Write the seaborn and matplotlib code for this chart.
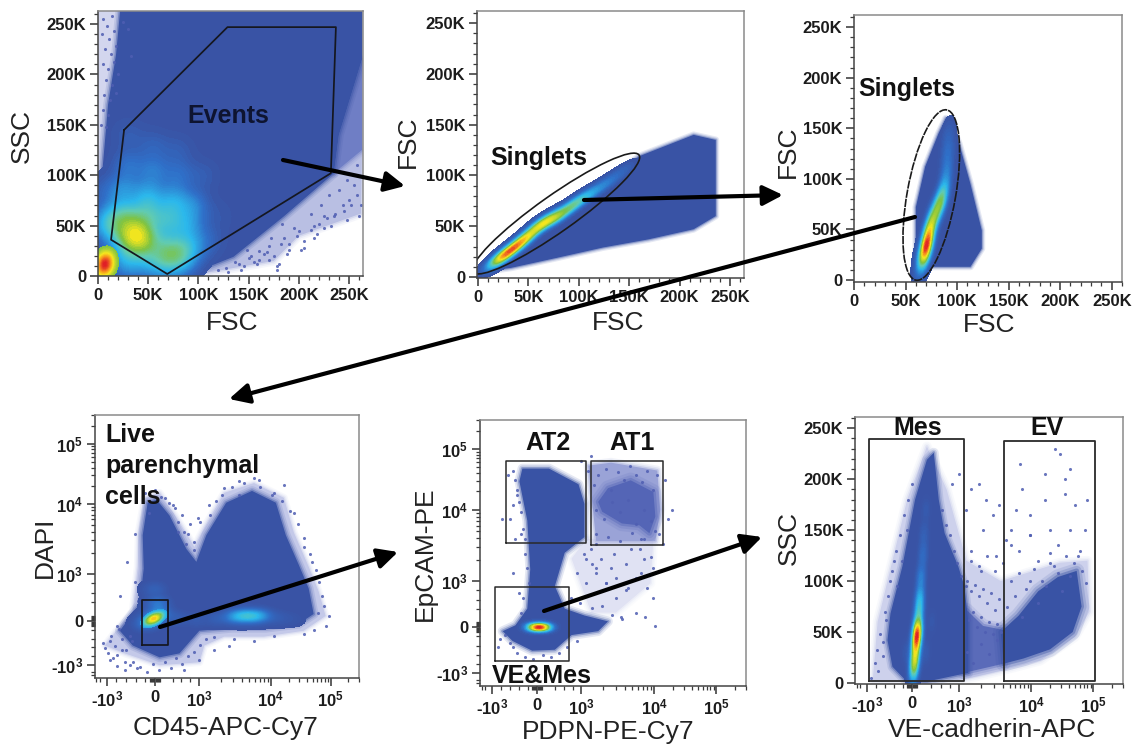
import numpy as np
import matplotlib
matplotlib.use("Agg")
import matplotlib.pyplot as plt
from matplotlib.colors import LinearSegmentedColormap
from matplotlib.patches import Ellipse, FancyArrowPatch
import seaborn as sns

# ---------- values ----------
K_TICKS = [0, 50, 100, 150, 200, 250]
K_LABELS = ["0", "50K", "100K", "150K", "200K", "250K"]
BIEX_LABELS = [r"-$\mathbf{\mathsf{10^{3}}}$", "0", r"$\mathbf{\mathsf{10^{3}}}$", r"$\mathbf{\mathsf{10^{4}}}$", r"$\mathbf{\mathsf{10^{5}}}$"]

# Panel 1, FSC / SSC (K)
p1_body_x = [0, 4, 10, 18, 22, 263, 263, 240, 235, 185, 135, 102, 70, 0]
p1_body_y = [40, 100, 170, 220, 263, 263, 215, 140, 102, 59, 19, 6, 0, 0]
p1_pale_x = [0, 0, 40, 25, 12]
p1_pale_y = [100, 263, 263, 200, 120]
p1_fringe_x = [90, 175, 200, 262, 263, 235, 185, 135, 102]
p1_fringe_y = [0, 15, 40, 62, 125, 102, 59, 19, 6]
p1_strip_x = [235, 263, 263, 240]
p1_strip_y = [102, 125, 215, 140]
p1_dots_x = [5, 9, 14, 4, 11, 16, 7, 13, 18, 5, 10, 16, 8, 14, 20, 6, 12, 18, 5, 10, 3, 8, 25, 30, 33, 140, 150, 160, 170, 178, 178, 180, 190, 200, 205, 215, 225, 222, 235, 245, 250, 240, 255, 260, 258, 248, 230, 212, 195, 185, 165, 155, 148, 172, 183, 215, 225,
             120, 128, 136, 145, 152, 160, 168, 175, 182, 190, 198, 205, 212, 220, 228, 236, 244, 252, 258, 130, 142, 158, 170, 188, 202, 218, 232, 248, 262]
p1_dots_y = [255, 248, 258, 240, 235, 243, 225, 220, 228, 210, 205, 212, 195, 190, 200, 180, 175, 182, 165, 160, 150, 148, 252, 245, 218, 12, 18, 25, 30, 10, 6, 12, 32, 45, 35, 50, 60, 70, 60, 65, 75, 85, 90, 60, 110, 95, 80, 62, 48, 38, 22, 14, 26, 38, 52, 38, 48,
             6, 8, 14, 10, 20, 16, 24, 20, 32, 26, 40, 28, 46, 52, 58, 62, 70, 70, 80, 4, 6, 12, 16, 22, 26, 42, 50, 56, 70]
p1_core_x = [30, 55, 80, 30, 55, 80, 105, 25, 50, 75, 95, 120, 5, 15, 30, 50, 70, 90, 110, 5, 20, 38, 55, 75, 92, 25, 45, 68, 85, 30, 55, 75]
p1_core_y = [140, 130, 125, 110, 105, 100, 100, 85, 80, 75, 70, 60, 85, 60, 60, 60, 55, 50, 35, 50, 42, 40, 35, 30, 28, 22, 22, 18, 15, 8, 8, 6]
p1_core_w = [.10, .12, .10, .20, .22, .18, .10, .28, .34, .32, .24, .06, .10, .28, .38, .38, .36, .28, .12, .25, .30, .85, .30, .30, .28, .26, .26, .36, .26, .20, .20, .12]
p1_hot_x = [5, 8, 8, 3, 12]
p1_hot_y = [12, 8, 18, 5, 14]
p1_hot_w = [1, .9, .9, .5, .4]
p1_gate_x = [26, 129, 237, 232, 69, 13, 26]
p1_gate_y = [145, 247, 247, 102, 2, 36, 145]

# Panel 2, FSC / FSC (K)
p2_body_x = [11, 15, 56, 101, 137, 160, 214, 236, 236, 214, 169, 124, 79, 33]
p2_body_y = [6, 14, 50, 79, 102, 119, 140, 135, 60, 47, 37, 29, 19, 9]
p2_core_x = [18, 24, 35, 47, 60, 70, 80, 92, 102, 115, 130, 145]
p2_core_y = [15, 20, 28, 38, 50, 56, 60, 69, 76, 84, 94, 105]
p2_core_w = [.28, .55, .72, .66, .52, .44, .42, .32, .28, .2, .15, .08]

# Panel 3, FSC / FSC (K)
p3_body_x = [63, 113, 124, 124, 113, 102, 93, 89, 82, 69, 60, 60]
p3_body_y = [13, 13, 31, 49, 95, 135, 158, 160, 145, 112, 72, 13]
p3_core_x = [66, 69, 71, 73, 77, 82, 85, 88, 90, 91, 91]
p3_core_y = [18, 28, 36, 49, 62, 72, 80, 92, 110, 128, 145]
p3_core_w = [.5, .85, 1, .85, .65, .55, .5, .35, .25, .2, .12]

# Panel 4, CD45 / DAPI (channel units, 0 at the zero tick)
p4_x_ticks = [-48, 0, 45, 117, 177]
p4_y_ticks = [-45, 0, 48, 119, 180]
p4_body_x = [-35, -15, -11, -12, -7, 2, 15, 32, 42, 52, 72, 98, 122, 132, 145, 155, 160, 145, 112, 78, 45, 25, 5, -22]
p4_body_y = [-10, 17, 53, 87, 120, 123, 107, 73, 60, 87, 120, 132, 120, 87, 57, 33, 7, -3, -7, -7, -10, -33, -37, -25]
p4_pale_x = [-50, -40, -22, -17, -16, -10, 5, 22, 40, 50, 70, 100, 130, 140, 155, 165, 172, 150, 110, 70, 50, 45, 5, -30]
p4_pale_y = [-25, -12, 10, 55, 90, 125, 130, 105, 75, 95, 130, 140, 125, 90, 55, 30, 5, -10, -16, -16, -25, -42, -45, -33]
p4_dots_x = [-50, -45, -38, -30, -25, -20, -42, -33, -25, -18, -35, -28, -20, -10, 0, 10, 20, 30, 40, 55, 70, 85, 100, 130, 150, 165, 170, 175, 158, 140, 120, 105, 85, -25, -38, -20, 30, 45, 60, 75,
             -52, -47, -44, -40, -36, -33, -29, -26, -23, -20, -17, -45, -38, -30, -22, -15, -8, -2, 4, 10, 16, 22, 28, 34, 40, 46, 52, -6, 6, 14, 24, 34, 18, 28, 36, 44, 24, 32, 40, 46, 56, 62, 68, 78, 90, 106, 118, 128, 136, 144, 150, 156, 162, 168, 164, 172, 160, 150, 60, 80, 100, 120]
p4_dots_y = [-28, -20, -35, -42, -15, -5, -38, -30, -45, -48, 25, 60, 88, 130, 133, 125, 115, 90, 80, 118, 135, 142, 145, 138, 75, 40, 15, 5, 60, 110, 130, 143, 128, 5, -5, 40, -50, -40, -30, -25,
             -22, -33, -15, -25, -8, -18, -30, -3, -20, 8, 20, -40, -46, -50, -42, -47, -52, -44, -50, -42, -48, -38, -44, -36, -32, -24, -18, 110, 126, 120, 100, 88, 118, 108, 98, 105, 90, 78, 72, 100, 108, 122, 128, 136, 140, 136, 128, 122, 112, 98, 84, 68, 52, 25, 8, -5, -9, -13, -16, -18, -20, -15]
p4_glow_x = [-2, 5, 3, 0, -10, 22, 42, 62, 78, 86, 94, 102, 110, 125, 140]
p4_glow_y = [2, 8, 18, 32, -3, 3, 1, 2, 4, 5, 5, 5, 5, 3, 2]
p4_glow_w = [.8, .6, .5, .25, .4, .2, .15, .2, .45, .6, .7, .6, .4, .15, .06]
p4_hot_x = [-3, 2]
p4_hot_y = [1, 4]
p4_hot_w = [1, .8]
p4_gate_x = [-13, 13, 13, -13, -13]
p4_gate_y = [-24, -24, 21, 21, -24]

# Panel 5, PDPN / EpCAM (channel units)
p5_x_ticks = [-46, 0, 45, 119, 182]
p5_y_ticks = [-47, 0, 47, 120, 182]
p5_body_x = [-35, -22, -10, -7, -10, -18, -15, 12, 42, 48, 48, 28, 18, 28, 48, 72, 62, 35, 18, -5, -25]
p5_body_y = [-4, 2, 19, 59, 109, 149, 162, 162, 146, 126, 92, 76, 42, 19, 12, 6, -4, -8, -23, -24, -14]
p5_at1_x = [62, 72, 95, 118, 120, 114, 104, 86, 66]
p5_at1_y = [128, 142, 150, 138, 113, 96, 104, 106, 118]
p5_mid_x = [52, 75, 122, 125, 120, 60]
p5_mid_y = [165, 168, 160, 120, 88, 88]
p5_pale_x = [50, 118, 115, 80, 55, 35]
p5_pale_y = [90, 90, 45, 15, 15, 70]
p5_dots_x = [-30, -36, -40, -25, -18, -22, 50, 60, 70, 80, 90, 100, 108, 118, 128, 133, 130, 137, 118, 100, 110, 85, 75, 60, 45, 55, 95, 105, 112, 120,
             -25, -22, -20, -18, -16, -14, -12, -28, -24, -20, -16, -12, -10, -8, -38, -33, -28, -24, -20, -12, -4, 6, 14, 22, 30, 40, -14, -16, 52, 58, 62, 70, 75, 82, 88, 94, 100, 106, 112, 118, 122, 60, 68, 76, 84, 92, 100, 108, 116, 124, 60, 72, 84, 96, 108, 120, 55, 65, 78, 90, 104, 116, 60, 70, 80, 92, 105, 48, 56, 40, 50, 34, 44, 56, 66, 76, 86]
p5_dots_y = [155, 110, -20, 55, 35, 90, 70, 60, 45, 30, 38, 50, 70, 60, 85, 110, 150, 120, 30, 15, 10, 10, 60, 85, 170, 175, 80, 90, 40, 1,
             160, 150, 140, 128, 118, 100, 90, 110, 125, 135, 95, 75, 60, 45, -12, -8, -16, -20, -26, -30, -32, -28, -30, -26, -20, -14, 30, 15, 160, 145, 155, 162, 140, 158, 150, 165, 155, 148, 160, 140, 155, 120, 110, 128, 118, 130, 105, 120, 108, 95, 95, 92, 88, 96, 90, 98, 80, 70, 75, 65, 80, 72, 55, 45, 50, 40, 55, 75, 65, 55, 45, 30, 25, 20, 22, 12, 8]
p5_core_x = [-8, -3, 2, 7, 12]
p5_core_y = [0, 0, 0, 0, 0]
p5_core_w = [.35, .8, 1, .8, .35]
p5_at2_gate_x = [-32, 50, 50, -32, -32]
p5_at2_gate_y = [86, 86, 170, 170, 86]
p5_at1_gate_x = [55, 128, 128, 55, 55]
p5_at1_gate_y = [84, 84, 170, 170, 84]
p5_ve_gate_x = [-43, 32, 32, -43, -43]
p5_ve_gate_y = [-34, -34, 41, 41, -34]

# Panel 6, VE-cadherin (channel units) / SSC (K)
p6_x_ticks = [-46, 0, 48, 121, 184]
p6_wedge_x = [-7, -20, -25, -22, -10, 3, 15, 22, 27, 33, 47, 53, 57, 57, 13]
p6_wedge_y = [3, 16, 42, 68, 114, 180, 219, 226, 180, 147, 114, 95, 60, 10, 1]
p6_ev_x = [90, 108, 128, 148, 167, 172, 163, 140, 113, 93]
p6_ev_y = [50, 66, 90, 104, 110, 75, 50, 33, 24, 19]
p6_bridge_x = [53, 93, 93, 72, 55]
p6_bridge_y = [10, 19, 52, 56, 72]
p6_pale_x = [-40, -35, -25, -5, 15, 35, 55, 90, 150, 178, 180, 165, 130, 90, 50]
p6_pale_y = [2, 60, 100, 180, 232, 190, 120, 100, 118, 120, 70, 45, 22, 12, 3]
p6_dots_x = [-35, -30, -28, -22, -18, 40, 48, 55, 60, 68, 72, 75, 82, 88, 95, 100, 108, 112, 120, 128, 135, 140, 148, 155, 160, 165, 170, 175, 150, 145, 135, 120, 105, 85, 70, 60, 55, 110, 155, 178,
             -42, -38, -36, -33, -30, -27, -25, -20, -16, -12, -8, -4, 0, -15, -10, -5, 30, 34, 38, 42, 46, 50, 56, 60, 64, 68, 72, 76, 80, 84, 88, 58, 62, 66, 70, 74, 78, 82, 86, 90, 60, 68, 76, 84, 92, 100, 108, 116, 124, 132, 140, 148, 156, 164, 172, 96, 104, 112, 120, 128, 136, 144, 152, 160, 168, 176, 100, 120, 140, 160, 56, 62, 70, 78, 86, 92]
p6_dots_y = [12, 40, 70, 100, 120, 195, 205, 170, 190, 195, 150, 180, 165, 175, 140, 150, 130, 190, 165, 120, 205, 150, 135, 200, 210, 175, 130, 150, 225, 230, 180, 145, 170, 125, 110, 130, 95, 215, 185, 180,
             5, 20, 32, 48, 26, 62, 85, 110, 130, 145, 165, 180, 195, 95, 120, 150, 170, 155, 145, 130, 118, 105, 100, 90, 96, 85, 92, 78, 88, 72, 82, 62, 70, 55, 65, 50, 60, 48, 58, 50, 120, 115, 125, 110, 118, 100, 108, 92, 112, 100, 118, 108, 125, 118, 110, 75, 85, 65, 100, 78, 95, 115, 90, 105, 125, 98, 135, 145, 128, 150, 30, 20, 38, 28, 42, 22]
p6_core_x = [1, 2, 3, 4, 5, 6, 7, 8, 9, 11, 12, 14, -6, 14, 20]
p6_core_y = [8, 16, 26, 39, 48, 55, 71, 85, 104, 125, 145, 170, 30, 30, 60]
p6_core_w = [.35, .6, .8, 1, .9, .75, .55, .42, .3, .2, .13, .08, .07, .08, .06]
p6_mes_gate_x = [-44, 53, 53, -44, -44]
p6_mes_gate_y = [2, 2, 239, 239, 2]
p6_ev_gate_x = [93, 186, 186, 93, 93]
p6_ev_gate_y = [2, 2, 237, 237, 2]

arrow_starts = [(283, 160), (584, 200), (915, 217), (160, 627), (544, 611)]
arrow_ends = [(405, 186), (783, 195), (229, 399), (398, 552), (762, 537)]

# ---------- style ----------
W, H = 1134, 746
sns.set_theme(style="white")
plt.rcParams["font.family"] = ["Liberation Sans", "DejaVu Sans"]
plt.rcParams["mathtext.fontset"] = "custom"
plt.rcParams["mathtext.bf"] = "Liberation Sans:bold"
plt.rcParams["mathtext.rm"] = "Liberation Sans"
plt.rcParams["mathtext.sf"] = "Liberation Sans:bold"
plt.rcParams["mathtext.bfit"] = "Liberation Sans:bold"

BLUE = "#3953a5"
STOPS = [(0, BLUE), (.12, "#2f6fc8"), (.3, "#2bb8ec"), (.43, "#62cbb0"), (.55, "#7dc242"),
         (.75, "#f6e71d"), (.87, "#f7941d"), (1, "#e01f26")]
JET = LinearSegmentedColormap.from_list("flow", STOPS)


def band(lo, hi):
    return LinearSegmentedColormap.from_list("band", JET(np.linspace(lo, hi, 128)))


fig = plt.figure(figsize=(W / 100, H / 100), dpi=100, facecolor="white")


def panel(left, right, top, bottom, xlim, ylim, xticks, yticks, xlabels, ylabels, xminor, yminor, fs=12):
    ax = fig.add_axes([left / W, 1 - bottom / H, (right - left) / W, (bottom - top) / H])
    ax.set_xlim(*xlim)
    ax.set_ylim(*ylim)
    ax.set_xticks(xticks, xlabels, fontsize=fs, fontweight="bold", color="#1c1c1c")
    ax.set_yticks(yticks, ylabels, fontsize=fs, fontweight="bold", color="#1c1c1c")
    ax.set_xticks(xminor, minor=True)
    ax.set_yticks(yminor, minor=True)
    ax.tick_params(which="major", length=5.5, width=1.1, color="#333333", pad=3, left=True, bottom=True)
    ax.tick_params(which="minor", length=2.8, width=.9, color="#3a3a3a", left=True, bottom=True)
    for side, spine in ax.spines.items():
        spine.set_visible(True)
        spine.set_linewidth(1.1)
        spine.set_color("#444444" if side in ("left", "bottom") else "#8a8a8a")
        spine.set_zorder(6)
    ax.grid(False)
    ax.patch.set_alpha(0)
    return ax


def labels(ax, xl, xpos, yl, ypos):
    tr = ax.transAxes.inverted()
    fs = 19
    col = "#222222"
    ax.set_xlabel(xl, fontsize=fs, color=col, va="center", ha="center")
    ax.set_ylabel(yl, fontsize=fs, color=col, va="center", ha="center")
    a = tr.transform((xpos[0], H - xpos[1]))
    b = tr.transform((ypos[0], H - ypos[1]))
    ax.xaxis.set_label_coords(a[0], a[1])
    ax.yaxis.set_label_coords(b[0], b[1])


def density(ax, x, y, w, major, minor, angle, lo=0, hi=1, thresh=.01, levels=50):
    """Filled seaborn KDE whose kernel size is set by two off-scale anchor pairs."""
    x, y, w = np.array(x, float), np.array(y, float), np.array(w, float)
    f, D = .02, 6000.
    t = np.radians(angle)
    R = np.array([[np.cos(t), -np.sin(t)], [np.sin(t), np.cos(t)]])
    target = R @ np.diag([major ** 2, minor ** 2]) @ R.T / f ** 2
    add = target - np.cov(np.vstack([x, y]), aweights=w)
    vals, vecs = np.linalg.eigh(add)
    cx, cy = np.average(x, weights=w), np.average(y, weights=w)
    W_ = w.sum()
    ex, ey, ew = [], [], []
    for v, d in zip(vals, vecs.T):
        e = max(v, 1e-6) * W_ / (2 * D ** 2)
        for s in (-1, 1):
            ex.append(cx + s * D * d[0])
            ey.append(cy + s * D * d[1])
            ew.append(e)
    xl, yl = ax.get_xlim(), ax.get_ylim()
    sns.kdeplot(x=np.r_[x, ex], y=np.r_[y, ey], weights=np.r_[w, ew], fill=True, cmap=band(lo, hi),
                levels=levels, thresh=thresh, bw_method=f, gridsize=220, clip=(xl, yl), ax=ax, zorder=3)
    ax.set_xlim(*xl)
    ax.set_ylim(*yl)
    ax.set_xlabel("")
    ax.set_ylabel("")


def blob(ax, x, y, color=BLUE, z=2, soft=1.0):
    ax.fill(x, y, color=color, lw=0, zorder=z)
    if soft:
        for lw, al in ((7, .13), (4.5, .2), (2.2, .4)):
            ax.fill(x, y, fill=False, ec=color, lw=lw * soft, alpha=al, zorder=z, joinstyle="round")


def dots(ax, x, y, color="#4f5eb2"):
    n = min(len(x), len(y))
    sns.scatterplot(x=x[:n], y=y[:n], s=5, color=color, linewidth=0, alpha=.85, ax=ax, zorder=2.5)


def gate(ax, x, y, color="#15171f", lw=1.25):
    sns.lineplot(x=x, y=y, sort=False, estimator=None, color=color, lw=lw, ax=ax, zorder=5)


def note(text, px, py, **kw):
    fig.text(px / W, 1 - py / H, text, fontsize=kw.pop("fs", 18), fontweight="bold", color=kw.pop("color", "#111111"),
             ha=kw.pop("ha", "center"), va="center", zorder=20)


k_minor = list(range(0, 261, 10))


def biex_minor(t):
    m = [-5, -4, -3, -2, -1, 1, 2, 3, 4, 5]
    for a, b in ((t[2], t[3]), (t[3], t[4])):
        m += [a + (b - a) * np.log10(k) for k in range(2, 10)]
    m += [t[4] + (t[4] - t[3]) * np.log10(k) for k in (2, 3)]
    m += [t[2] * k / 5 for k in (2, 3, 4)] + [t[0] * k / 5 for k in (1, 2, 3, 4)]
    m += [t[0] * 1.15, t[0] * 1.22]
    return m


# ---------- panel 1 ----------
a1 = panel(98, 363, 11, 276, (0, 264), (0, 263), K_TICKS, K_TICKS, K_LABELS, K_LABELS, k_minor, k_minor)
blob(a1, p1_pale_x, p1_pale_y, "#d3d6ee", 1, 0)
blob(a1, p1_fringe_x, p1_fringe_y, "#b9bfe3", 1, 1)
blob(a1, p1_strip_x, p1_strip_y, "#6f7ec5", 1.2, 1)
dots(a1, p1_dots_x, p1_dots_y)
blob(a1, p1_body_x, p1_body_y)
density(a1, p1_core_x, p1_core_y, p1_core_w, 11, 11, 0, 0, .76)
density(a1, p1_hot_x, p1_hot_y, p1_hot_w, 7, 5.5, 80, .55, 1, thresh=.08)
gate(a1, p1_gate_x, p1_gate_y)
labels(a1, "FSC", (232, 323), "SSC", (22, 136))
note("Events", 228, 116, color="#0e1430")

# ---------- panel 2 ----------
a2 = panel(477, 744, 11, 278, (-1, 264), (-1, 262), K_TICKS, K_TICKS, K_LABELS, K_LABELS, k_minor, k_minor)
blob(a2, p2_body_x, p2_body_y, soft=.7)
density(a2, p2_core_x, p2_core_y, p2_core_w, 10, 3.5, 36, 0, .95, levels=60)
a2.add_patch(Ellipse((77.5, 62.5), 201, 36, angle=35, fill=False, ec="#1a1a1a", lw=1.2, zorder=5))
labels(a2, "FSC", (618, 323), "FSC", (408, 142))
note("Singlets", 539, 158)

# ---------- panel 3 ----------
a3 = panel(854, 1122, 15, 282, (0, 259), (-2, 262), K_TICKS, K_TICKS, K_LABELS, K_LABELS, k_minor, k_minor)
blob(a3, p3_body_x, p3_body_y, soft=.7)
density(a3, p3_core_x, p3_core_y, p3_core_w, 10, 3.6, 78, 0, 1, levels=60)
a3.add_patch(Ellipse((75, 84), 171, 47, angle=80, fill=False, ec="#1a1a1a", lw=1.2, ls=(0, (5, .6)), zorder=5))
labels(a3, "FSC", (989, 325), "FSC", (788, 152))
note("Singlets", 907, 89)

# ---------- panel 4 ----------
a4 = panel(95, 359, 415, 678, (-60, 204), (-58, 205), p4_x_ticks, p4_y_ticks, BIEX_LABELS, BIEX_LABELS,
           biex_minor(p4_x_ticks), biex_minor(p4_y_ticks))
blob(a4, p4_pale_x, p4_pale_y, "#c4c9e9", 1, .8)
dots(a4, p4_dots_x, p4_dots_y)
blob(a4, p4_body_x, p4_body_y)
density(a4, p4_glow_x, p4_glow_y, p4_glow_w, 7, 4.5, 0, 0, .36)
density(a4, p4_hot_x, p4_hot_y, p4_hot_w, 4.5, 2.4, 25, .25, .8, thresh=.12)
gate(a4, p4_gate_x, p4_gate_y)
labels(a4, "CD45-APC-Cy7", (226, 728), "DAPI", (45, 547))
note("Live", 105, 435, ha="left")
note("parenchymal", 105, 466, ha="left")
note("cells", 105, 497, ha="left")

# ---------- panel 5 ----------
a5 = panel(480, 746, 420, 686, (-58, 208), (-60, 206), p5_x_ticks, p5_y_ticks, BIEX_LABELS, BIEX_LABELS,
           biex_minor(p5_x_ticks), biex_minor(p5_y_ticks))
blob(a5, p5_pale_x, p5_pale_y, "#e0e2f3", 1, 1)
blob(a5, p5_mid_x, p5_mid_y, "#9aa3d7", 1.2, 1)
blob(a5, p5_at1_x, p5_at1_y, "#5465b6", 1.5, 1.6)
dots(a5, p5_dots_x, p5_dots_y)
blob(a5, p5_body_x, p5_body_y)
density(a5, p5_core_x, p5_core_y, p5_core_w, 4.5, 2.6, 0, 0, 1)
for gx, gy in ((p5_at2_gate_x, p5_at2_gate_y), (p5_at1_gate_x, p5_at1_gate_y), (p5_ve_gate_x, p5_ve_gate_y)):
    gate(a5, gx, gy, "#2a2a2a", 1.1)
labels(a5, "PDPN-PE-Cy7", (608, 732), "EpCAM-PE", (425, 554))
note("AT2", 548, 443)
note("AT1", 632, 443)
note("VE&Mes", 542, 676)

# ---------- panel 6 ----------
a6 = panel(855, 1123, 417, 684, (-58, 210), (-1, 261), p6_x_ticks, K_TICKS, BIEX_LABELS, K_LABELS,
           biex_minor(p6_x_ticks), k_minor)
blob(a6, p6_pale_x, p6_pale_y, "#cdd1ec", 1, 1)
blob(a6, p6_bridge_x, p6_bridge_y, "#5a6bb9", 1.3, 1.4)
dots(a6, p6_dots_x, p6_dots_y)
blob(a6, p6_ev_x, p6_ev_y, soft=1.6)
blob(a6, p6_wedge_x, p6_wedge_y)
density(a6, p6_core_x, p6_core_y, p6_core_w, 8, 3, 87, 0, 1, levels=60)
gate(a6, p6_mes_gate_x, p6_mes_gate_y, "#2a2a2a", 1.3)
gate(a6, p6_ev_gate_x, p6_ev_gate_y, "#2a2a2a", 1.3)
labels(a6, "VE-cadherin-APC", (992, 730), "SSC", (789, 538))
note("Mes", 918, 428)
note("EV", 1047, 428)

# ---------- arrows ----------
for (x0, y0), (x1, y1) in zip(arrow_starts, arrow_ends):
    fig.add_artist(FancyArrowPatch((x0 / W, 1 - y0 / H), (x1 / W, 1 - y1 / H), transform=fig.transFigure,
                                   arrowstyle="-|>,head_length=1.0,head_width=.5", mutation_scale=12,
                                   lw=3, color="black", shrinkA=0, shrinkB=0, zorder=30))

fig.savefig("out.png", dpi=100, facecolor="white")
